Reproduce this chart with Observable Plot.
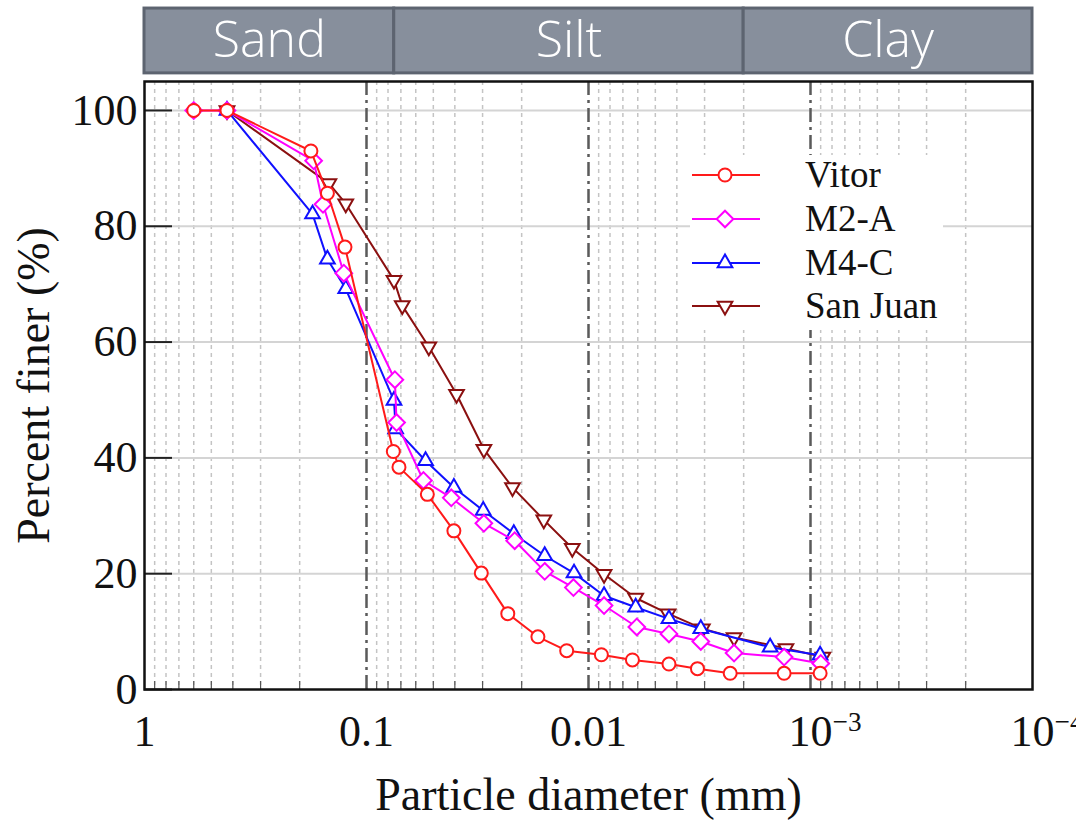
<!DOCTYPE html>
<html><head><meta charset="utf-8">
<script src="https://cdn.jsdelivr.net/npm/d3@7"></script>
<script src="https://cdn.jsdelivr.net/npm/@observablehq/plot@0.6"></script>
<style>
body{margin:0;background:#fff;}
#wrap{position:relative;width:1076px;height:822px;}
#wrap svg g[aria-label="x-axis label"] text, #wrap svg g[aria-label="y-axis label"] text{font-size:46px;}
#legend{position:absolute;left:690px;top:155px;width:253px;height:175px;background:#fff;font-family:"Liberation Serif","Times New Roman",serif;font-size:37px;color:#111;}
.row{position:absolute;left:0;height:40px;display:flex;align-items:center;}
.row svg{display:block;}
.row span{position:absolute;left:115px;white-space:nowrap;line-height:40px;}
</style></head><body><div id="wrap"></div>
<script>
// ---- data ----
const seriesNames = ["Vitor", "M2-A", "M4-C", "San Juan"];
const seriesColors = ["#ff1a1a", "#ff00ff", "#1010ff", "#8b1010"];

const vitorD = [0.6, 0.425, 0.178, 0.150, 0.125, 0.0757, 0.0714, 0.0532, 0.0404, 0.0304, 0.0231, 0.0169, 0.01254, 0.00875, 0.00634, 0.00434, 0.00323, 0.0023, 0.001315, 0.000905];
const vitorP = [100, 100, 93.0, 85.7, 76.4, 41.1, 38.4, 33.7, 27.4, 20.1, 13.1, 9.1, 6.7, 6.0, 5.1, 4.4, 3.6, 2.8, 2.8, 2.8];

const m2aD = [0.6, 0.425, 0.173, 0.157, 0.1265, 0.0745, 0.0732, 0.0554, 0.0415, 0.0296, 0.0215, 0.01575, 0.01169, 0.00851, 0.00606, 0.00434, 0.00312, 0.00221, 0.001315, 0.000899];
const m2aP = [100, 100, 91.3, 83.8, 71.9, 53.5, 46.1, 36.1, 33.1, 28.7, 25.7, 20.4, 17.6, 14.5, 10.8, 9.6, 8.3, 6.3, 5.6, 4.5];

const m4cD = [0.425, 0.175, 0.15, 0.124, 0.0752, 0.0739, 0.0542, 0.0404, 0.0298, 0.0217, 0.01575, 0.01162, 0.00851, 0.00613, 0.00434, 0.00312, 0.00152, 0.000905];
const m4cP = [100, 82.1, 74.3, 69.2, 49.9, 45.0, 39.5, 34.9, 30.9, 26.9, 23.1, 20.1, 16.2, 14.2, 12.2, 10.5, 7.3, 5.9];

const sjD = [0.425, 0.1477, 0.124, 0.0752, 0.069, 0.0524, 0.0393, 0.0296, 0.0220, 0.0159, 0.01183, 0.00851, 0.00613, 0.00438, 0.00307, 0.00221, 0.00129, 0.00088];
const sjP = [100, 87.4, 83.9, 70.7, 66.3, 59.2, 51.0, 41.5, 34.9, 29.3, 24.4, 19.9, 15.8, 13.1, 10.5, 9.0, 7.1, 5.6];

const xDecades = [1, 0.1, 0.01, 0.001, 0.0001];
const xTickLabels = ["1", "0.1", "0.01", "10^-3", "10^-4"];
const yTicks = [0, 20, 40, 60, 80, 100];

const bandNames = ["Sand", "Silt", "Clay"];
const bandFrom = [1, 0.075, 0.002];
const bandTo = [0.075, 0.002, 0.0001];

// ---- derived tables ----
const seriesD = [vitorD, m2aD, m4cD, sjD];
const seriesP = [vitorP, m2aP, m4cP, sjP];
const rows = seriesNames.map((name, i) => seriesD[i].map((d, j) => ({name, d, p: seriesP[i][j]})));
const bands = bandNames.map((name, i) => ({name, from: bandFrom[i], to: bandTo[i]}));
const minor = [];
for (const dec of [0.1, 0.01, 0.001, 0.0001]) for (let m = 2; m <= 9; m++) minor.push(m * dec);

// custom downward triangle (mirror of d3.symbolTriangle2)
const triangleDown = {
  draw(context, size) {
    const s = Math.sqrt(size) * 0.6824, t = s / 2, u = (s * Math.sqrt(3)) / 2;
    context.moveTo(0, s);
    context.lineTo(u, -t);
    context.lineTo(-u, -t);
    context.closePath();
  }
};
const symbols = ["circle", "diamond2", "triangle2", triangleDown];
const d3symbols = [d3.symbolCircle, d3.symbolDiamond2, d3.symbolTriangle2, triangleDown];
const radii = [6.5, 7.5, 7, 7];

const W = 1076, H = 822, mL = 144, mR = 44, mT = 81, mB = 133;
const frameW = W - mL - mR, frameH = H - mT - mB;

const seriesMarks = [];
for (const i of [3, 2, 1, 0]) {
  seriesMarks.push(
    Plot.line(rows[i], {x: "d", y: "p", stroke: seriesColors[i], strokeWidth: 2}),
    Plot.dot(rows[i], {x: "d", y: "p", symbol: symbols[i], r: radii[i], stroke: seriesColors[i], fill: "white", strokeWidth: 2})
  );
}

const chart = Plot.plot({
  width: W, height: H,
  marginLeft: mL, marginRight: mR, marginTop: mT, marginBottom: mB,
  style: {fontFamily: '"Liberation Serif","Times New Roman",serif', fontSize: "44px", color: "#111", background: "white", overflow: "visible"},
  x: {type: "log", domain: [1, 0.0001]},
  y: {domain: [0, 105]},
  marks: [
    Plot.ruleX(minor, {stroke: "#c4c4c4", strokeWidth: 1.5, strokeDasharray: "4,4"}),
    Plot.ruleY(yTicks.filter(v => v > 0), {stroke: "#d4d4d4", strokeWidth: 2}),
    Plot.ruleX(xDecades.slice(1, 4), {stroke: "#5a5a5a", strokeWidth: 2.5, strokeDasharray: "14,5,3,5"}),
    Plot.tickX(minor, {stroke: "#555", strokeWidth: 1.2, insetTop: frameH - 8}),
    Plot.tickY(yTicks, {stroke: "#222", strokeWidth: 2, insetRight: frameW - 28}),
    ...seriesMarks,
    Plot.frame({stroke: "#111", strokeWidth: 2.5}),
    Plot.rect(bands, {x1: "from", x2: "to", y1: () => 106.4, y2: () => 117.6, fill: "#878f9c", stroke: "#5d6470", strokeWidth: 3}),
    Plot.text(bands, {x: d => Math.sqrt(d.from * d.to), y: () => 112, text: "name", fill: "white", fontSize: 50, fontFamily: '"Open Sans", Lato, sans-serif', fontWeight: 300}),
    Plot.axisX(xDecades, {tickSize: 0, tickPadding: 25, tickFormat: (d, i) => xTickLabels[xDecades.indexOf(d)], label: "Particle diameter (mm)", labelAnchor: "center", labelOffset: 120, labelArrow: "none"}),
    Plot.axisY(yTicks, {tickSize: 0, tickPadding: 7, label: "Percent finer (%)", labelAnchor: "center", labelOffset: 128, labelArrow: "none"})
  ]
});

// superscript exponents on the x tick labels
chart.querySelectorAll('g[aria-label="x-axis tick label"] text').forEach(t => {
  const s = t.textContent;
  if (s.startsWith("10^")) {
    const exp = s.slice(3).replace("-", "\u2212");
    t.textContent = "";
    t.setAttribute("text-anchor", "start");
    const base = document.createElementNS("http://www.w3.org/2000/svg", "tspan");
    base.setAttribute("dx", "-0.5em");
    base.textContent = "10";
    const sup = document.createElementNS("http://www.w3.org/2000/svg", "tspan");
    sup.setAttribute("dy", "-0.55em");
    sup.setAttribute("font-size", "0.62em");
    sup.textContent = exp;
    t.append(base, sup);
  }
});

const wrap = document.getElementById("wrap");
wrap.append(chart);

// legend
const legend = document.createElement("div");
legend.id = "legend";
const rowCenters = [20, 64, 108, 151];
seriesNames.forEach((name, i) => {
  const row = document.createElement("div");
  row.className = "row";
  row.style.top = (rowCenters[i] - 20) + "px";
  row.style.width = "253px";
  const path = d3.symbol(d3symbols[i], radii[i] * radii[i] * Math.PI)();
  row.innerHTML = `<svg width="72" height="40"><line x1="2" x2="70" y1="20" y2="20" stroke="${seriesColors[i]}" stroke-width="2"/><path d="${path}" transform="translate(35,20)" fill="white" stroke="${seriesColors[i]}" stroke-width="2"/></svg><span>${name}</span>`;
  legend.append(row);
});
wrap.append(legend);
</script>
</body></html>
